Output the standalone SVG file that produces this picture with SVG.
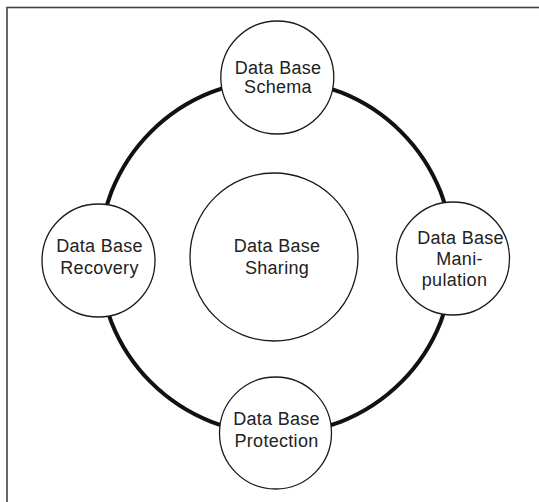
<svg xmlns="http://www.w3.org/2000/svg" width="539" height="502" viewBox="0 0 539 502">
<style>
.node{fill:#fff;stroke:#1a1a1a;stroke-width:1.3}
.lbl{font-family:"Liberation Sans",Arial,sans-serif;font-size:18px;letter-spacing:0.3px;fill:#222;text-anchor:middle}
.ring{fill:none;stroke:#111;stroke-width:4}
</style>
<rect x="0" y="0" width="539" height="502" fill="#fff"/>
<rect x="7" y="7.5" width="620" height="620" fill="none" stroke="#444" stroke-width="1.6"/>
<g id="connectors">
<path class="ring" d="M276,80 A177,177 0 0 1 453,257"/>
<path class="ring" d="M453,257 A177,177 0 0 1 276,434"/>
<path class="ring" d="M276,434 A177,177 0 0 1 99,257"/>
<path class="ring" d="M99,257 A177,177 0 0 1 276,80"/>
</g>
<g id="sharing">
<circle class="node" cx="274" cy="257" r="84"/>
<text class="lbl" x="277" y="251.5">Data Base</text>
<text class="lbl" x="277" y="274">Sharing</text>
</g>
<g id="schema">
<circle class="node" cx="277.3" cy="77.5" r="56.5"/>
<text class="lbl" x="278" y="73.5">Data Base</text>
<text class="lbl" x="278" y="92.5">Schema</text>
</g>
<g id="manipulation">
<circle class="node" cx="453" cy="258.5" r="56.5"/>
<text class="lbl" x="460.5" y="243.5">Data Base</text>
<text class="lbl" x="459.5" y="264.5">Mani-</text>
<text class="lbl" x="454.5" y="285.5">pulation</text>
</g>
<g id="protection">
<circle class="node" cx="275.5" cy="433" r="56"/>
<text class="lbl" x="276.5" y="425">Data Base</text>
<text class="lbl" x="276.5" y="447">Protection</text>
</g>
<g id="recovery">
<circle class="node" cx="98.5" cy="260.5" r="56.5"/>
<text class="lbl" x="99.5" y="252">Data Base</text>
<text class="lbl" x="99.5" y="274">Recovery</text>
</g>
</svg>
